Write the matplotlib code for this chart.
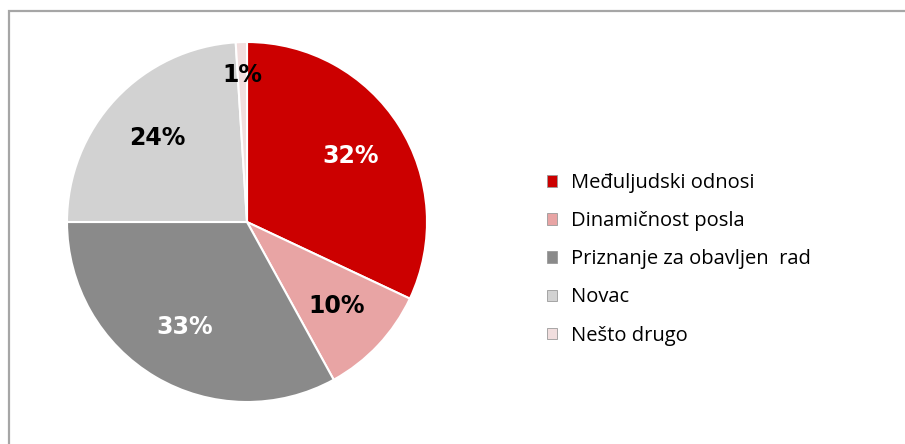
"""Motivacija zaposlenika: udio odgovora po kategoriji (pie)."""

import matplotlib.pyplot as plt
from matplotlib.patches import Patch, Rectangle

CATEGORIES = [
    "Međuljudski odnosi",
    "Dinamičnost posla",
    "Priznanje za obavljen  rad",
    "Novac",
    "Nešto drugo",
]
SHARES = [32, 10, 33, 24, 1]
COLORS = ["#CC0000", "#E8A4A4", "#8A8A8A", "#D2D2D2", "#F1DEDE"]
LABEL_COLORS = ["white", "black", "white", "black", "black"]

FIG_W, FIG_H = 905, 444
CENTER = (247, 222)
RADIUS = 180


def main() -> None:
    fig = plt.figure(figsize=(FIG_W / 100, FIG_H / 100), dpi=100)
    fig.patch.set_facecolor("white")

    # outer chart frame (runs off the right and bottom edges)
    fig.patches.append(
        Rectangle(
            (9 / FIG_W, -0.05),
            1.05,
            1.05 - 11 / FIG_H,
            transform=fig.transFigure,
            fill=False,
            edgecolor="#A6A6A6",
            linewidth=1.6,
        )
    )

    ax = fig.add_axes(
        [
            (CENTER[0] - RADIUS) / FIG_W,
            (FIG_H - CENTER[1] - RADIUS) / FIG_H,
            2 * RADIUS / FIG_W,
            2 * RADIUS / FIG_H,
        ]
    )
    wedges, _, autotexts = ax.pie(
        SHARES,
        colors=COLORS,
        startangle=90,
        counterclock=False,
        autopct="%d%%",
        pctdistance=0.68,
        wedgeprops={"edgecolor": "white", "linewidth": 1.5},
        textprops={"fontsize": 17, "fontweight": "bold", "family": "DejaVu Sans"},
    )
    for text, color in zip(autotexts, LABEL_COLORS):
        text.set_color(color)
    # the thin slice has its label pushed further out
    x, y = autotexts[-1].get_position()
    autotexts[-1].set_position((x * 1.2, y * 1.2))
    ax.set_xlim(-1, 1)
    ax.set_ylim(-1, 1)

    handles = [Patch(facecolor=c, edgecolor="#9A9A9A", linewidth=0.6) for c in COLORS]
    fig.legend(
        handles,
        CATEGORIES,
        loc="upper left",
        bbox_to_anchor=(529 / FIG_W, 1 - 155 / FIG_H),
        frameon=False,
        handlelength=0.5,
        handleheight=0.5,
        handletextpad=0.7,
        labelspacing=0.9,
        prop={"family": "Open Sans", "size": 14.5},
    )

    fig.savefig("out.png", dpi=100)
    plt.close(fig)


if __name__ == "__main__":
    main()
